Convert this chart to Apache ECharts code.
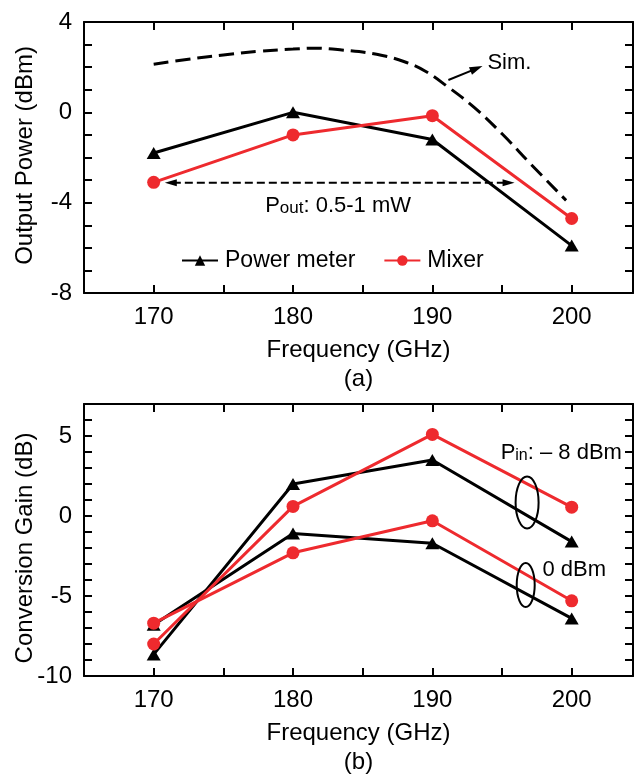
<!DOCTYPE html>
<html>
<head>
<meta charset="utf-8">
<script src="https://cdn.jsdelivr.net/npm/echarts@6/dist/echarts.min.js"></script>
<style>
  html, body { margin: 0; padding: 0; background: #fff; }
  #chart { width: 636px; height: 774px; }
</style>
</head>
<body>
<div id="chart"></div>
<script>
// Measured frequencies (GHz)
const freqs = [170, 180, 190, 200];

// (a) Output power (dBm)
const outPowerMeter = [-1.8, 0.0, -1.2, -5.9];
const outMixer = [-3.1, -1.0, -0.15, -4.7];

// (a) Simulated output power curve
const simFreqs = [170, 172.5, 175, 177.5, 180, 181.5, 183.5, 186, 188, 189.5, 191, 193, 195, 197, 199.6];
const simPower = [2.13, 2.35, 2.54, 2.7, 2.8, 2.84, 2.76, 2.57, 2.24, 1.82, 1.18, 0.22, -0.95, -2.25, -3.9];

// (b) Conversion gain (dB), Pin = -8 dBm
const gainPmM8 = [-8.65, 2.0, 3.5, -1.6];
const gainMixM8 = [-8.0, 0.6, 5.1, 0.55];
// (b) Conversion gain (dB), Pin = 0 dBm
const gainPm0 = [-6.8, -1.1, -1.7, -6.4];
const gainMix0 = [-6.7, -2.3, -0.3, -5.3];

// Axis tick labels
const xTickLabels = [170, 180, 190, 200];
const yTickLabelsA = [-8, -4, 0, 4];
const yTickLabelsB = [-10, -5, 0, 5];

const FONT = '"Liberation Sans", Arial, Helvetica, sans-serif';
const BLACK = '#000000';
const RED = '#ee2a2e';

const pairs = (xs, ys) => xs.map((x, i) => [x, ys[i]]);

const chart = echarts.init(document.getElementById('chart'), null, { renderer: 'canvas' });

const axisLine = { show: true, onZero: false, lineStyle: { color: BLACK, width: 2 } };
const axisTick = { show: true, inside: true, length: 8, lineStyle: { color: BLACK, width: 2 } };

function xAxisMain(gridIndex, name) {
  return {
    type: 'value', gridIndex, min: 165, max: 204.4, interval: 5,
    axisLine, axisTick,
    axisLabel: {
      show: true, margin: 12, color: BLACK, fontSize: 24, fontFamily: FONT,
      formatter: v => (xTickLabels.indexOf(v) >= 0 ? String(v) : '')
    },
    splitLine: { show: false },
    name, nameLocation: 'middle', nameGap: 43, nameMoveOverlap: false,
    nameTextStyle: { color: BLACK, fontSize: 24, fontFamily: FONT, lineHeight: 29 }
  };
}
function xAxisMirror(gridIndex) {
  return {
    type: 'value', gridIndex, min: 165, max: 204.4, interval: 5, position: 'top',
    axisLine, axisTick, axisLabel: { show: false }, splitLine: { show: false }
  };
}
function yAxisMain(gridIndex, min, max, labels, name, namePad) {
  return {
    type: 'value', gridIndex, min, max, interval: 1,
    axisLine, axisTick,
    axisLabel: {
      show: true, margin: 12, color: BLACK, fontSize: 24, fontFamily: FONT,
      formatter: v => (labels.indexOf(v) >= 0 ? String(v) : '')
    },
    splitLine: { show: false },
    name, nameLocation: 'middle', nameGap: 47, nameMoveOverlap: false,
    nameTextStyle: { color: BLACK, fontSize: 24, fontFamily: FONT, padding: namePad }
  };
}
function yAxisMirror(gridIndex, min, max) {
  return {
    type: 'value', gridIndex, min, max, interval: 1, position: 'right',
    axisLine, axisTick, axisLabel: { show: false }, splitLine: { show: false }
  };
}

function measured(name, xi, yi, data, color, symbol) {
  return {
    name, type: 'line', xAxisIndex: xi, yAxisIndex: yi,
    data: pairs(freqs, data),
    symbol, symbolSize: symbol === 'triangle' ? [14, 12] : 13,
    lineStyle: { color, width: 3 },
    itemStyle: { color },
    z: color === RED ? 4 : 3,
    animation: false
  };
}

chart.setOption({
  animation: false,
  backgroundColor: '#ffffff',
  textStyle: { fontFamily: FONT },
  grid: [
    { left: 84, top: 22, width: 549, height: 271, containLabel: false, outerBoundsMode: 'none' },
    { left: 84, top: 404, width: 549, height: 272, containLabel: false, outerBoundsMode: 'none' }
  ],
  xAxis: [
    xAxisMain(0, 'Frequency (GHz)\n(a)'),
    xAxisMirror(0),
    xAxisMain(1, 'Frequency (GHz)\n(b)'),
    xAxisMirror(1)
  ],
  yAxis: [
    yAxisMain(0, -8, 4, yTickLabelsA, 'Output Power (dBm)', [0, 0, 0, 4]),
    yAxisMirror(0, -8, 4),
    yAxisMain(1, -10, 7, yTickLabelsB, 'Conversion Gain (dB)', [0, 16, 0, 0]),
    yAxisMirror(1, -10, 7)
  ],
  legend: {
    data: ['Power meter', 'Mixer'],
    left: 176, top: 244,
    itemWidth: 36, itemHeight: 13, itemGap: 28,
    textStyle: { color: BLACK, fontSize: 23, fontFamily: FONT, padding: [0, 0, 0, 2] }
  },
  series: [
    measured('Power meter', 0, 0, outPowerMeter, BLACK, 'triangle'),
    measured('Mixer', 0, 0, outMixer, RED, 'circle'),
    {
      name: 'Sim.', type: 'line', xAxisIndex: 0, yAxisIndex: 0,
      data: pairs(simFreqs, simPower),
      smooth: 0.4, showSymbol: false, symbol: 'none',
      lineStyle: { color: BLACK, width: 3, type: [15, 7] },
      z: 2
    },
    measured('Power meter, Pin -8 dBm', 2, 2, gainPmM8, BLACK, 'triangle'),
    measured('Mixer, Pin -8 dBm', 2, 2, gainMixM8, RED, 'circle'),
    measured('Power meter, Pin 0 dBm', 2, 2, gainPm0, BLACK, 'triangle'),
    measured('Mixer, Pin 0 dBm', 2, 2, gainMix0, RED, 'circle')
  ]
});

// Annotations placed in data coordinates of each panel
const pxA = p => chart.convertToPixel({ seriesIndex: 0 }, p);
const pxB = p => chart.convertToPixel({ seriesIndex: 3 }, p);

function arrowHead(tip, from, len, halfW) {
  const dx = tip[0] - from[0], dy = tip[1] - from[1];
  const d = Math.hypot(dx, dy);
  const ux = dx / d, uy = dy / d;
  const bx = tip[0] - ux * len, by = tip[1] - uy * len;
  return {
    type: 'polygon', z: 10,
    shape: { points: [tip, [bx - uy * halfW, by + ux * halfW], [bx + uy * halfW, by - ux * halfW]] },
    style: { fill: BLACK, stroke: null }
  };
}

const simFrom = pxA([191.15, 1.43]);
const simTip = pxA([193.6, 2.05]);
const simLabel = pxA([193.95, 2.2]);

const poutY = -3.12;
const poutL = pxA([170.8, poutY]);
const poutR = pxA([195.9, poutY]);
const poutLabel = pxA([178.0, -4.1]);

const ellU = pxB([196.8, 0.84]);
const ellL = pxB([196.7, -4.31]);
const pinLabel = pxB([194.9, 4.0]);
const zeroLabel = pxB([197.9, -3.4]);

const graphics = [
  // Sim. pointer
  { type: 'line', z: 10, shape: { x1: simFrom[0], y1: simFrom[1], x2: simTip[0] - 8, y2: simTip[1] + 3.3 },
    style: { stroke: BLACK, lineWidth: 2 } },
  arrowHead(simTip, simFrom, 13, 4),
  { type: 'text', z: 10, style: { text: 'Sim.', x: simLabel[0], y: simLabel[1], fill: BLACK,
    fontSize: 22, fontFamily: FONT, verticalAlign: 'middle', align: 'left' } },

  // Pout range double arrow
  { type: 'line', z: 10, shape: { x1: poutL[0] + 8, y1: poutL[1], x2: poutR[0] - 8, y2: poutR[1] },
    style: { stroke: BLACK, lineWidth: 2, lineDash: [8, 4] } },
  arrowHead(poutL, poutR, 12, 3.5),
  arrowHead(poutR, poutL, 12, 3.5),
  { type: 'text', z: 10, style: {
      text: '{p|P}{s|out}{p|: 0.5-1 mW}', x: poutLabel[0], y: poutLabel[1],
      verticalAlign: 'middle', align: 'left',
      rich: {
        p: { fontSize: 22, fontFamily: FONT, fill: BLACK, color: BLACK, verticalAlign: 'bottom', lineHeight: 24 },
        s: { fontSize: 17, fontFamily: FONT, fill: BLACK, color: BLACK, verticalAlign: 'bottom', lineHeight: 24 }
      }
  } },

  // Pin group markers
  { type: 'ellipse', z: 10, shape: { cx: ellU[0], cy: ellU[1], rx: 11.5, ry: 26 },
    style: { fill: 'none', stroke: BLACK, lineWidth: 2 } },
  { type: 'ellipse', z: 10, shape: { cx: ellL[0], cy: ellL[1], rx: 9, ry: 22 },
    style: { fill: 'none', stroke: BLACK, lineWidth: 2 } },
  { type: 'text', z: 10, style: {
      text: '{p|P}{s|in}{p|: \u2013 8 dBm}', x: pinLabel[0], y: pinLabel[1],
      verticalAlign: 'middle', align: 'left',
      rich: {
        p: { fontSize: 22, fontFamily: FONT, fill: BLACK, color: BLACK, verticalAlign: 'bottom', lineHeight: 24 },
        s: { fontSize: 16, fontFamily: FONT, fill: BLACK, color: BLACK, verticalAlign: 'bottom', lineHeight: 24 }
      }
  } },
  { type: 'text', z: 10, style: { text: '0 dBm', x: zeroLabel[0], y: zeroLabel[1], fill: BLACK,
    fontSize: 22, fontFamily: FONT, verticalAlign: 'middle', align: 'left' } }
];

chart.setOption({ graphic: graphics });
</script>
</body>
</html>
